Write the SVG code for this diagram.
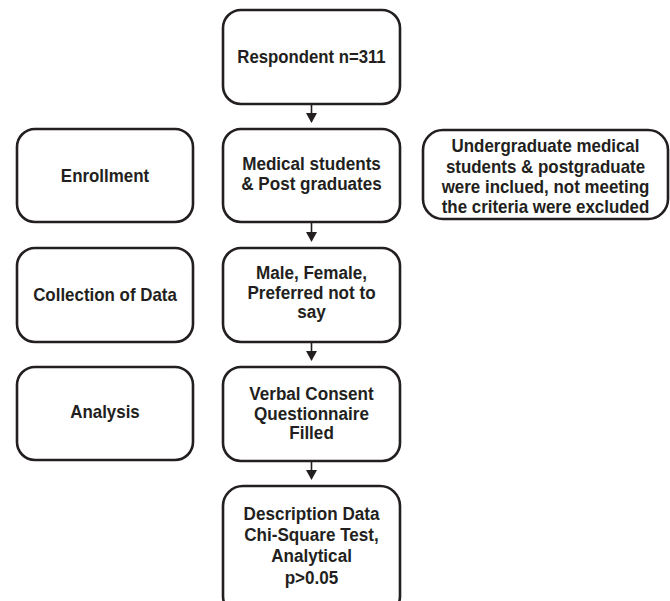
<svg xmlns="http://www.w3.org/2000/svg" width="670" height="601" viewBox="0 0 670 601">
<defs>
<style>
.box{fill:#fff;stroke:#231f20;stroke-width:2.6}
.t{font-family:"Liberation Sans",Arial,Helvetica,sans-serif;font-weight:bold;font-size:18.4px;fill:#231f20;text-anchor:middle}
.c{stroke:#231f20;stroke-width:1.6;fill:none}
.ah{fill:#231f20}
</style>
</defs>
<rect width="670" height="601" fill="#fff"/>
<g id="respondent">
<rect class="box" x="223" y="10" width="177" height="94" rx="18"/>
<text class="t" transform="translate(311.5,63) scale(0.91,1)" x="0" y="0">Respondent n=311</text>
</g>
<g id="enrollment">
<rect class="box" x="17" y="129" width="176" height="93" rx="18"/>
<text class="t" transform="translate(105,182) scale(0.92,1)" x="0" y="0">Enrollment</text>
</g>
<g id="medical">
<rect class="box" x="223" y="129" width="177" height="93" rx="18"/>
<text class="t" transform="translate(311.5,0) scale(0.93,1)"><tspan x="0" y="170">Medical students</tspan><tspan x="0" y="190">&amp; Post graduates</tspan></text>
</g>
<g id="criteria">
<rect class="box" x="423" y="130" width="245" height="89" rx="20"/>
<text class="t" transform="translate(545.5,0) scale(0.92,1)"><tspan x="0" y="152">Undergraduate medical</tspan><tspan x="0" y="173">students &amp; postgraduate</tspan><tspan x="0" y="193">were inclued, not meeting</tspan><tspan x="0" y="213">the criteria were excluded</tspan></text>
</g>
<g id="collection">
<rect class="box" x="17" y="248" width="176" height="94" rx="18"/>
<text class="t" transform="translate(105,301) scale(0.92,1)" x="0" y="0">Collection of Data</text>
</g>
<g id="gender">
<rect class="box" x="223" y="248" width="177" height="94" rx="18"/>
<text class="t" transform="translate(311.5,0) scale(0.93,1)"><tspan x="0" y="279">Male, Female,</tspan><tspan x="0" y="299">Preferred not to</tspan><tspan x="0" y="318">say</tspan></text>
</g>
<g id="analysis">
<rect class="box" x="17" y="367" width="176" height="93" rx="18"/>
<text class="t" transform="translate(105,418) scale(0.92,1)" x="0" y="0">Analysis</text>
</g>
<g id="consent">
<rect class="box" x="223" y="367" width="177" height="94" rx="18"/>
<text class="t" transform="translate(311.5,0) scale(0.93,1)"><tspan x="0" y="400">Verbal Consent</tspan><tspan x="0" y="420">Questionnaire</tspan><tspan x="0" y="439">Filled</tspan></text>
</g>
<g id="description">
<rect class="box" x="223" y="486" width="177" height="130" rx="20"/>
<text class="t" transform="translate(311.5,0) scale(0.93,1)"><tspan x="0" y="520">Description Data</tspan><tspan x="0" y="541">Chi-Square Test,</tspan><tspan x="0" y="562">Analytical</tspan><tspan x="0" y="584">p&gt;0.05</tspan></text>
</g>
<g id="connectors">
<line class="c" x1="311.5" y1="104" x2="311.5" y2="114"/>
<polygon class="ah" points="306,113 317,113 311.5,123"/>
<line class="c" x1="311.5" y1="222" x2="311.5" y2="233"/>
<polygon class="ah" points="306,232 317,232 311.5,242"/>
<line class="c" x1="311.5" y1="342" x2="311.5" y2="352"/>
<polygon class="ah" points="306,351 317,351 311.5,361"/>
<line class="c" x1="311.5" y1="461" x2="311.5" y2="471"/>
<polygon class="ah" points="306,470 317,470 311.5,480"/>
</g>
</svg>
